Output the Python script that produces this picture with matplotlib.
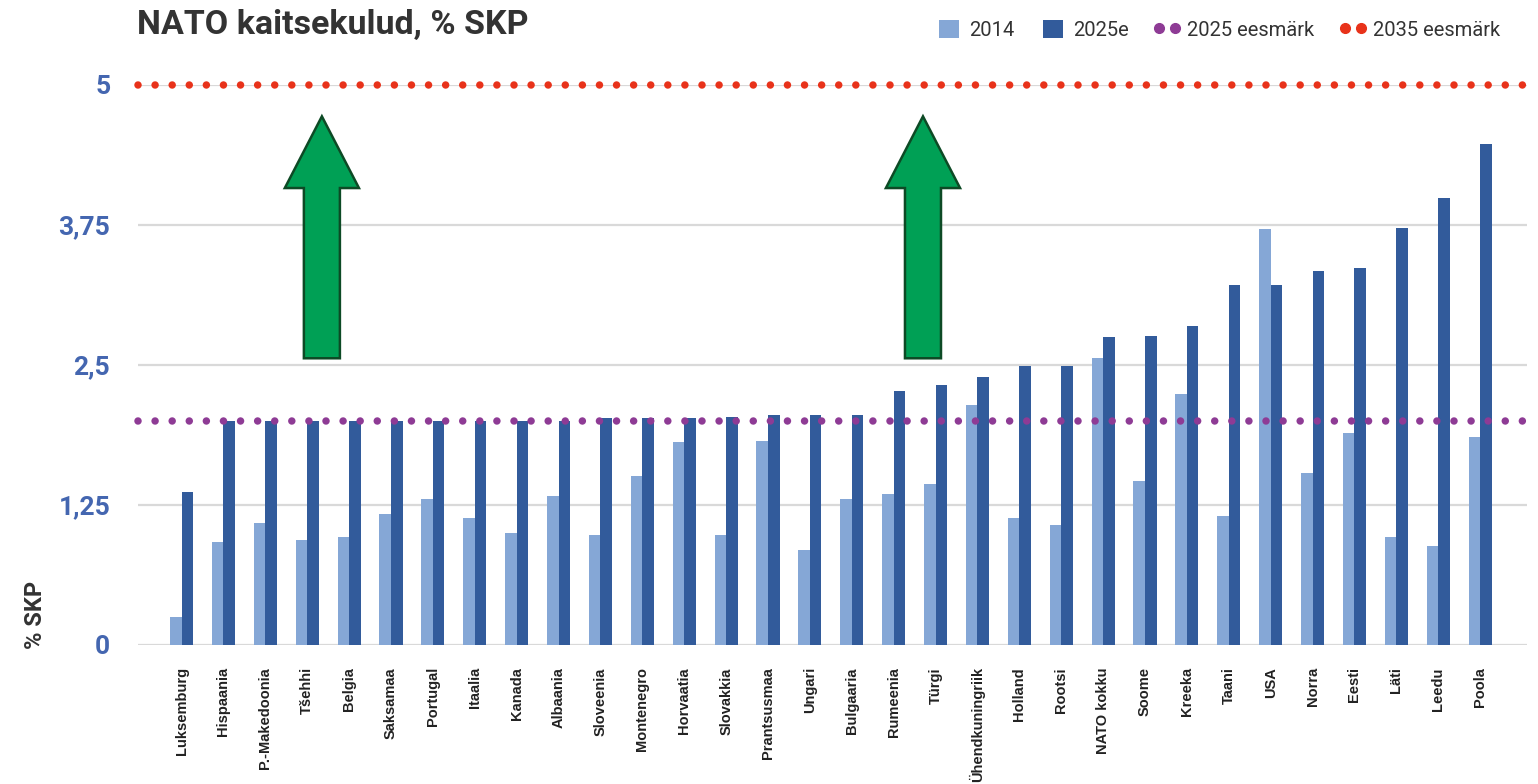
import numpy as np
import matplotlib
matplotlib.use("Agg")
import matplotlib.pyplot as plt
from matplotlib.patches import Patch, FancyArrow
from matplotlib.lines import Line2D
from matplotlib.legend_handler import HandlerLine2D

plt.rcParams.update({'font.family': ['Roboto', 'DejaVu Sans']})

# data (% of GDP)
countries = ["Luksemburg", "Hispaania", "P.-Makedoonia", "Tšehhi", "Belgia", "Saksamaa",
             "Portugal", "Itaalia", "Kanada", "Albaania", "Sloveenia", "Montenegro",
             "Horvaatia", "Slovakkia", "Prantsusmaa", "Ungari", "Bulgaaria", "Rumeenia",
             "Türgi", "Ühendkuningriik", "Holland", "Rootsi", "NATO kokku", "Soome",
             "Kreeka", "Taani", "USA", "Norra", "Eesti", "Läti", "Leedu", "Poola"]
spend_2014 = [0.25, 0.92, 1.09, 0.94, 0.96, 1.17, 1.30, 1.13, 1.00, 1.33, 0.98, 1.51,
              1.81, 0.98, 1.82, 0.85, 1.30, 1.35, 1.44, 2.14, 1.13, 1.07, 2.56, 1.46,
              2.24, 1.15, 3.71, 1.54, 1.89, 0.96, 0.88, 1.86]
spend_2025 = [1.37, 2.00, 2.00, 2.00, 2.00, 2.00, 2.00, 2.00, 2.00, 2.00, 2.03, 2.03,
              2.03, 2.04, 2.05, 2.05, 2.05, 2.27, 2.32, 2.39, 2.49, 2.49, 2.75, 2.76,
              2.85, 3.21, 3.21, 3.34, 3.37, 3.72, 3.99, 4.47]
goal_2025 = 2.0
goal_2035 = 5.0
y_ticks = [0, 1.25, 2.5, 3.75, 5]
y_tick_labels = ["0", "1,25", "2,5", "3,75", "5"]
series_labels = ["2014", "2025e", "2025 eesmärk", "2035 eesmärk"]

c_2014 = "#85a7d6"
c_2025 = "#325b9b"
c_goal25 = "#8e3b95"
c_goal35 = "#e8321a"
c_tick = "#4466b0"
c_text = "#333333"
c_arrow = "#00a055"
c_arrow_edge = "#0d4a25"

fig = plt.figure(figsize=(15.38, 7.84), dpi=100)
ax = fig.add_axes([138 / 1538, 1 - 645 / 784, (1527 - 138) / 1538, (645 - 85) / 784])

x = np.arange(len(countries))
w = 0.275
ax.bar(x - w / 2, spend_2014, width=w, color=c_2014, zorder=2)
ax.bar(x + w / 2, spend_2025, width=w, color=c_2025, zorder=2)

# goal lines drawn as round dots (~17 px apart)
dot_lw = 5.4
dots = (0, (0.001, 12.3 / dot_lw))
for val, col in [(goal_2025, c_goal25), (goal_2035, c_goal35)]:
    ax.axhline(val, color=col, lw=dot_lw, linestyle=dots, dash_capstyle="round",
               zorder=3, clip_on=False)

# arrows
for ax_x in (3.35, 17.7):
    arr = FancyArrow(ax_x, 2.56, 0, 4.72 - 2.56, width=0.86, head_width=1.77,
                     head_length=0.64, length_includes_head=True,
                     facecolor=c_arrow, edgecolor=c_arrow_edge, lw=1.8, zorder=4)
    ax.add_patch(arr)

ax.set_xlim(-1.04, 32.12)
ax.set_ylim(0, 5)
ax.set_yticks(y_ticks)
ax.set_yticklabels(y_tick_labels, fontsize=19, fontweight="bold", color=c_tick)
ax.set_xticks(x)
ax.set_xticklabels(countries, rotation=90, fontsize=10.5, fontweight="bold", color="#222222",
                   family=["Liberation Sans", "DejaVu Sans"])
ax.tick_params(axis="y", length=0, pad=20)
ax.tick_params(axis="x", length=0, pad=16)
ax.grid(axis="y", color="#d9d9d9", lw=1.6, zorder=0)
ax.set_axisbelow(True)
for s in ax.spines.values():
    s.set_visible(False)

fig.text(137 / 1538, 1 - 25 / 784, "NATO kaitsekulud, % SKP", fontsize=24.5,
         fontweight="bold", color=c_text, va="center", ha="left")
fig.text(35 / 1538, 1 - 615 / 784, "% SKP", fontsize=17, fontweight="bold",
         color=c_text, rotation=90, va="center", ha="center")

handles = [
    Patch(facecolor=c_2014),
    Patch(facecolor=c_2025),
    Line2D([0], [0], ls="none", marker="o", markersize=7, color=c_goal25),
    Line2D([0], [0], ls="none", marker="o", markersize=7, color=c_goal35),
]
fig.legend(handles, series_labels, ncol=4, loc="center right",
           bbox_to_anchor=(1510 / 1538, 1 - 30 / 784), frameon=False,
           fontsize=14.5, labelcolor=c_text, handlelength=1.0, handleheight=1.0,
           handletextpad=0.5, columnspacing=1.4, borderpad=0, numpoints=2,
           handler_map={Line2D: HandlerLine2D(marker_pad=0.1, numpoints=2)})

fig.savefig("out.png", dpi=100)
